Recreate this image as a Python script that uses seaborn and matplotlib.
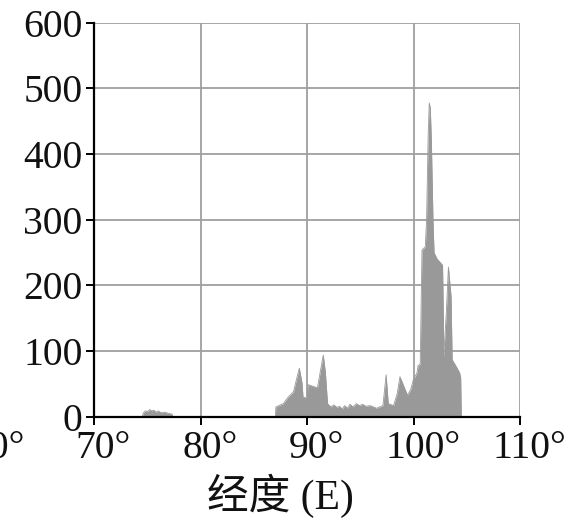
import matplotlib
matplotlib.use("Agg")
import matplotlib.pyplot as plt
import matplotlib.transforms as mtransforms
import pandas as pd
import seaborn as sns

# longitude (degrees E) and profile height
LONGITUDE = [
    74.5, 74.6, 74.8, 75.0, 75.2, 75.4, 75.6, 75.8, 76.0, 76.3, 76.6, 77.0, 77.3, 77.4,
    87.0, 87.05, 87.75, 88.2, 88.7, 88.97, 89.25, 89.5, 89.6, 90.0, 90.05, 90.6, 90.95,
    91.2, 91.5, 91.7, 91.9, 92.2, 92.5, 92.8, 93.0, 93.3, 93.5, 93.8, 94.0, 94.3, 94.6,
    94.9, 95.2, 95.5, 95.9, 96.5, 97.1, 97.4, 97.6, 98.1, 98.45, 98.7, 99.0, 99.4, 99.7,
    99.95, 100.3, 100.4, 100.6, 100.77, 101.08, 101.2, 101.35, 101.45, 101.55, 101.65,
    101.8, 101.9, 102.2, 102.7, 102.77, 102.8, 103.05, 103.25, 103.5, 103.6, 104.0,
    104.3, 104.4, 104.46,
]
HEIGHT = [
    0, 6, 9, 8, 11, 9, 10, 7, 9, 6, 7, 5, 4, 0,
    0, 15, 20, 30, 38, 56, 74, 52, 30, 28, 49, 46, 44,
    67, 94, 67, 20, 15, 18, 14, 16, 12, 17, 13, 19, 15, 20,
    17, 19, 16, 17, 13, 17, 64, 20, 17, 36, 61, 49, 33, 41,
    56, 67, 78, 80, 254, 259, 300, 430, 478, 470, 420,
    300, 250, 240, 231, 158, 91, 158, 228, 183, 87, 76,
    67, 60, 0,
]
X_TICKS = [70, 80, 90, 100, 110]
Y_TICKS = [0, 100, 200, 300, 400, 500, 600]
X_TICK_LABELS = ["70°", "80°", "90°", "100°", "110°"]
X_LABEL = "经度 (E)"

FILL_COLOR = "#999999"
GRID_COLOR = "#9f9f9f"
TEXT_COLOR = "#111111"
SERIF = ["Liberation Serif", "Noto Sans CJK SC", "DejaVu Sans"]
TICK_SIZE = 28.5

sns.set_theme(style="white")
plt.rcParams["font.family"] = SERIF

profile = pd.DataFrame({"lon": LONGITUDE, "height": HEIGHT})

fig = plt.figure(figsize=(5.82, 5.19), dpi=100)
ax = fig.add_axes([0.162, 0.197, 0.732, 0.759])

ax.fill_between(profile["lon"], 0, profile["height"], color=FILL_COLOR, linewidth=0, zorder=2)
sns.lineplot(data=profile, x="lon", y="height", color=FILL_COLOR, linewidth=0.6,
             sort=False, estimator=None, ax=ax, zorder=2)

ax.set_xlim(70, 110)
ax.set_ylim(0, 600)
ax.set_xticks(X_TICKS)
ax.set_xticklabels(X_TICK_LABELS)
ax.set_yticks(Y_TICKS)
ax.set_ylabel("")

ax.grid(True, color=GRID_COLOR, linewidth=1.3)
ax.set_axisbelow(True)
for side in ["top", "right"]:
    ax.spines[side].set_visible(False)
for side in ["left", "bottom"]:
    ax.spines[side].set_color("black")
    ax.spines[side].set_linewidth(1.6)
    ax.spines[side].set_zorder(3)

tick_len, x_pad = 5.5, 4.0
ax.tick_params(axis="both", which="major", direction="out", length=tick_len, width=1.4,
               color="black", labelsize=TICK_SIZE, labelcolor=TEXT_COLOR, left=True, bottom=True)
ax.tick_params(axis="x", pad=x_pad)
ax.tick_params(axis="y", pad=3)
for label in ax.get_yticklabels():
    label.set_verticalalignment("center_baseline")

# the numbers sit centred on the ticks, the degree sign hangs to the right
shift = mtransforms.ScaledTranslation(6.5 / 72, 0, fig.dpi_scale_trans)
for label in ax.get_xticklabels():
    label.set_transform(label.get_transform() + shift)

# clipped label of the previous tick, partly outside the figure
label_trans = mtransforms.offset_copy(ax.get_xaxis_transform(), fig=fig,
                                      x=6.5, y=-(tick_len + x_pad), units="points")
ax.text(60, 0, "60°", transform=label_trans, ha="center", va="top",
        fontsize=TICK_SIZE, color=TEXT_COLOR, clip_on=False)

ax.set_xlabel(X_LABEL, fontsize=30, color=TEXT_COLOR, family=SERIF)
ax.xaxis.set_label_coords(0.437, -0.145)

fig.savefig("out.png", dpi=100, facecolor="white")
